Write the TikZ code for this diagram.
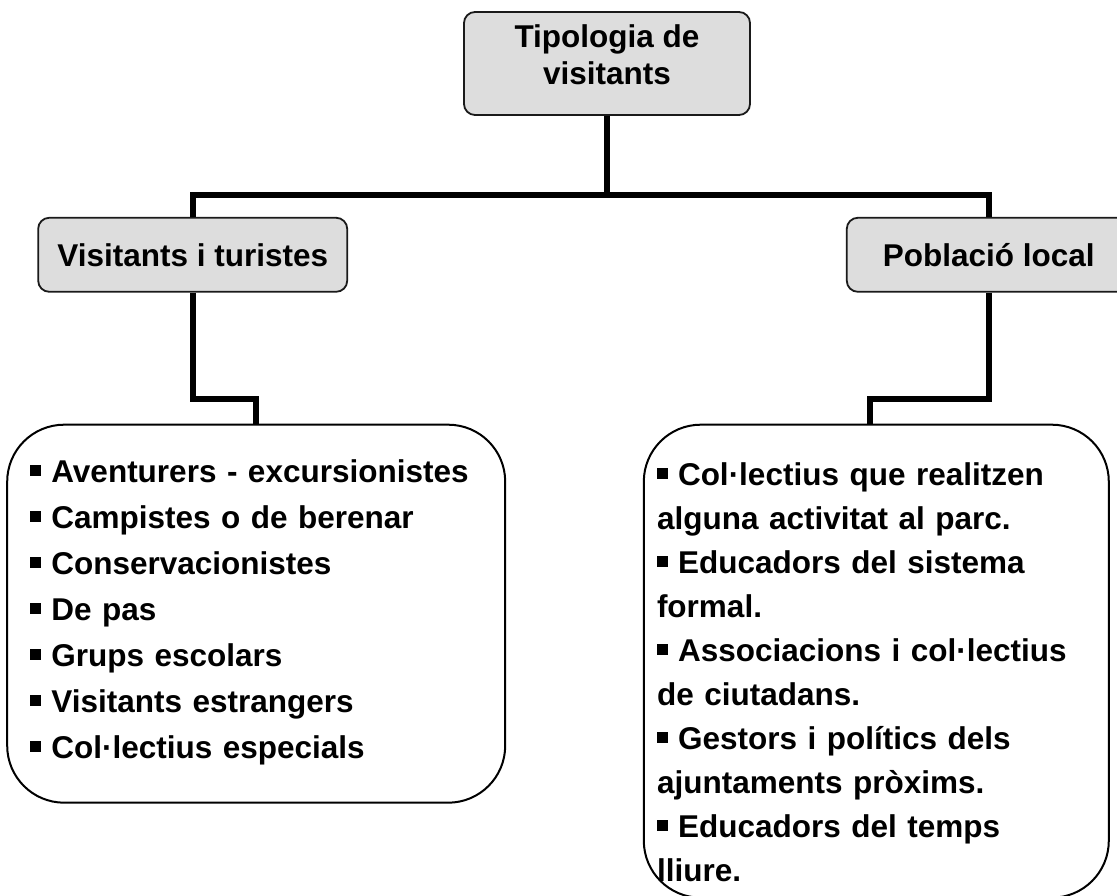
\documentclass[tikz,border=0pt]{standalone}
\usepackage{fontspec}
\setmainfont{Liberation Sans}
\usepackage{tikz}
\usetikzlibrary{positioning}
\definecolor{cBox}{HTML}{DDDDDD}
\definecolor{cEdge}{HTML}{1A1A1A}
% square bullet as in the reference
\newcommand{\blt}{\rule[7pt]{11pt}{11pt}\hspace{10pt}}
\tikzset{
  headbox/.style={
    rectangle, rounded corners=11pt, draw=cEdge, line width=1.8pt, fill=cBox,
    font=\fontsize{31.5}{37}\selectfont\bfseries, align=center, inner sep=0pt
  },
  listbox/.style={
    rectangle, rounded corners=57pt, draw=black, line width=2pt, fill=white,
    inner sep=0pt
  },
  listtext/.style={
    inner sep=0pt, align=left, text width=470pt,
    font=\fontsize{31.5}{#1}\selectfont\bfseries
  },
  listtext/.default=46pt,
  conn/.style={line width=6pt, draw=black},
}
\begin{document}
\begin{tikzpicture}[x=1pt, y=1pt]
  \useasboundingbox (0,0) rectangle (1117,896);

  % heads
  \node[headbox, minimum width=286pt, minimum height=103pt] (tipo) at (607,832.5)
    {Tipologia de\\visitants\rule[-17pt]{0pt}{0pt}};
  \node[headbox, minimum width=309pt, minimum height=74pt,
        below left=101pt and 115pt of tipo] (turistes) {Visitants i turistes};
  \node[headbox, minimum width=284pt, minimum height=74pt,
        below right=101pt and 95pt of tipo] (local) {Població local};

  % lists
  \node[listbox, minimum width=498pt, minimum height=378pt,
        below=131pt of turistes, xshift=63.5pt] (ltbox) {};
  \node[listbox, minimum width=465pt, minimum height=473pt,
        below=131pt of local, xshift=-112.5pt] (plbox) {};

  \node[listtext, below right=26.8pt and 24pt of ltbox.north west] (ltlist) {%
    \strut\blt Aventurers - excursionistes\\
    \blt Campistes o de berenar\\
    \blt Conservacionistes\\
    \blt De pas\\
    \blt Grups escolars\\
    \blt Visitants estrangers\\
    \blt Col·lectius especials};

  \node[listtext=44pt, below right=31.2pt and 14pt of plbox.north west] (pllist) {%
    \strut\blt Col·lectius que realitzen\\
    alguna activitat al parc.\\
    \blt Educadors del sistema\\
    formal.\\
    \blt Associacions i col·lectius\\
    de ciutadans.\\
    \blt Gestors i polítics dels\\
    ajuntaments pròxims.\\
    \blt Educadors del temps\\
    lliure.};

  % connectors
  \coordinate[below=79pt of tipo] (split);
  \draw[conn] (tipo) -- (split);
  \draw[conn] (turistes.north) |- (split) -| (local.north);
  \draw[conn] (turistes.south) -- ++(0,-106) -| (ltbox.north);
  \draw[conn] (local.south) -- ++(0,-106) -| ([xshift=-6pt]plbox.north);

\end{tikzpicture}
\end{document}
